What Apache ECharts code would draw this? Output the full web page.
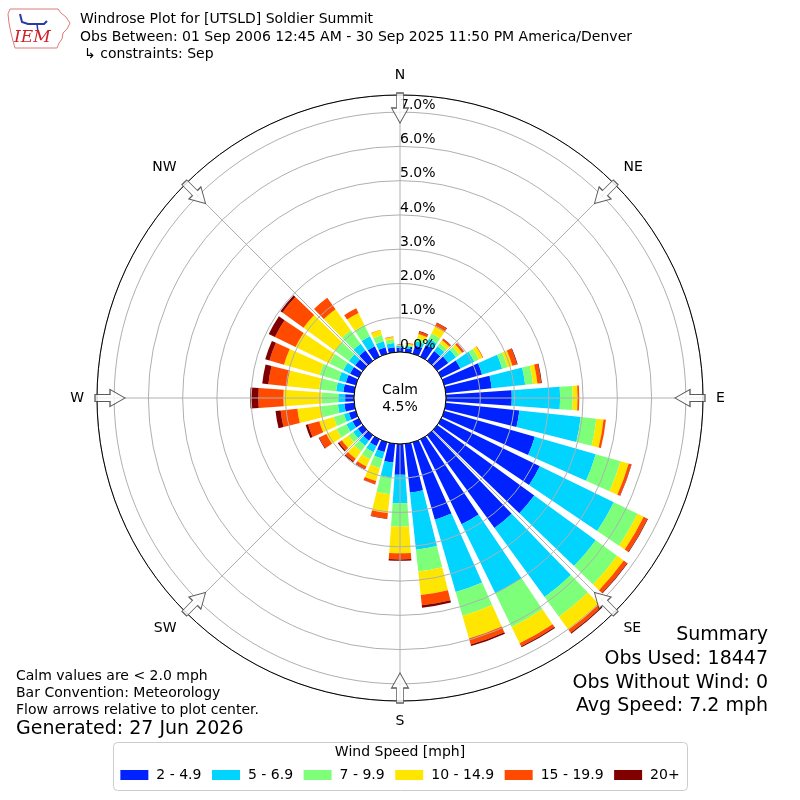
<!DOCTYPE html>
<html><head><meta charset="utf-8">
<script src="https://cdn.jsdelivr.net/npm/echarts@6/dist/echarts.min.js"></script>
<style>html,body{margin:0;padding:0;background:#fff}#c{width:800px;height:800px}</style>
</head><body><div id="c"></div>
<script>
// ---- data ----
const directions = ['0','10','20','30','40','50','60','70','80','90','100','110','120','130','140','150','160','170',
                    '180','190','200','210','220','230','240','250','260','270','280','290','300','310','320','330','340','350'];
const speedBins = ['2 - 4.9','5 - 6.9','7 - 9.9','10 - 14.9','15 - 19.9','20+'];
const binColors = ['#0022ff','#00d4ff','#7dff7a','#ffe600','#ff4a00','#800000'];
// percent of observations per direction, per speed bin
const bin2to5   = [0.13,0.12,0.25,0.38,0.35,0.40,0.62,1.15,1.35,1.92,2.16,2.75,3.20,3.50,3.35,2.76,2.35,1.43,
                   0.90,0.55,0.30,0.22,0.20,0.18,0.20,0.21,0.29,0.26,0.32,0.30,0.28,0.28,0.37,0.34,0.20,0.15];
const bin5to7   = [0.05,0.06,0.13,0.20,0.17,0.28,0.45,0.61,0.98,1.41,1.80,1.85,2.40,2.22,2.49,2.24,2.20,1.68,
                   0.83,0.44,0.20,0.20,0.18,0.17,0.20,0.15,0.19,0.20,0.21,0.22,0.22,0.22,0.24,0.32,0.18,0.12];
const bin7to10  = [0.02,0.04,0.10,0.17,0.11,0.12,0.15,0.16,0.23,0.37,0.46,0.75,0.77,0.77,0.71,1.09,0.72,0.64,
                   0.68,0.49,0.28,0.23,0.20,0.17,0.32,0.31,0.50,0.49,0.50,0.58,0.45,0.50,0.49,0.37,0.19,0.11];
const bin10to15 = [0.01,0.04,0.12,0.23,0.11,0.10,0.12,0.15,0.13,0.14,0.21,0.25,0.20,0.24,0.47,0.53,0.69,0.69,
                   0.78,0.55,0.40,0.23,0.27,0.24,0.33,0.44,0.69,1.11,0.94,1.08,1.10,1.14,0.76,0.39,0.15,0.07];
const bin15to20 = [0.00,0.02,0.07,0.11,0.05,0.06,0.02,0.14,0.11,0.05,0.07,0.08,0.12,0.12,0.11,0.10,0.18,0.30,
                   0.18,0.16,0.09,0.08,0.10,0.10,0.23,0.34,0.49,0.73,0.55,0.44,0.67,0.76,0.41,0.15,0.01,0.01];
const bin20plus = [0.00,0.00,0.02,0.02,0.01,0.01,0.00,0.02,0.02,0.00,0.00,0.01,0.02,0.02,0.03,0.03,0.05,0.07,
                   0.04,0.02,0.01,0.02,0.03,0.04,0.02,0.07,0.15,0.24,0.18,0.13,0.20,0.07,0.00,0.00,0.00,0.00];
const binSeries = [bin2to5, bin5to7, bin7to10, bin10to15, bin15to20, bin20plus];
const radialMax = 7.5;
const radialTicks = [0,1,2,3,4,5,6,7];
const compassAngles = [0,45,90,135,180,225,270,315];
const compassLabels = ['N','NE','E','SE','S','SW','W','NW'];
const calmPct = 4.5;
const arrowRadius = 7.12;

const FONT = 'DejaVu Sans';
const chart = echarts.init(document.getElementById('c'), null, {renderer: 'canvas'});

const centerPos = [400, 398];
const polarRadius = [46, 303];

const series = binSeries.map((vals, i) => ({
  name: speedBins[i],
  type: 'bar',
  coordinateSystem: 'polar',
  polarIndex: 0,
  stack: 'wind',
  data: vals,
  barCategoryGap: '20%',
  itemStyle: {color: binColors[i]},
  emphasis: {disabled: true},
  z: 2
}));

series.push({
  type: 'scatter',
  coordinateSystem: 'polar',
  polarIndex: 1,
  symbol: 'path://M5,0L12,0L12,15L17,15L8.5,30L0,15L5,15Z',
  symbolSize: [17, 30],
  itemStyle: {color: '#ffffff', borderColor: '#333', borderWidth: 1},
  emphasis: {disabled: true},
  silent: true,
  z: 20,
  data: compassAngles.map(a => ({value: [arrowRadius, a], symbolRotate: -a}))
});

const textEl = (x, y, txt, size, align, extra) => Object.assign({
  type: 'text', x: x, y: y, z: 50,
  style: {text: txt, fontSize: size, fontFamily: FONT, fill: '#000', textAlign: align || 'left', textVerticalAlign: 'middle'}
}, extra || {});

const option = {
  animation: false,
  backgroundColor: '#fff',
  textStyle: {fontFamily: FONT},
  polar: [
    {center: centerPos, radius: polarRadius},
    {center: centerPos, radius: polarRadius}
  ],
  angleAxis: [
    {polarIndex: 0, type: 'category', data: directions, startAngle: 95, clockwise: true,
     boundaryGap: true, show: false},
    {polarIndex: 1, type: 'value', min: 0, max: 360, interval: 45, startAngle: 90, clockwise: true, z: 5,
     axisLine: {show: true, lineStyle: {color: '#000', width: 1}},
     axisTick: {show: false},
     axisLabel: {show: true, margin: 13, fontSize: 14, color: '#000', fontFamily: FONT,
       formatter: v => { const k = compassAngles.indexOf(v); return k >= 0 ? compassLabels[k] : ''; }},
     splitLine: {show: true, lineStyle: {color: '#b0b0b0', width: 1}}}
  ],
  radiusAxis: [
    {polarIndex: 0, type: 'value', min: 0, max: radialMax, show: false},
    {polarIndex: 1, type: 'value', min: 0, max: radialMax, interval: 1, z: 5,
     axisLine: {show: false}, axisTick: {show: false},
     axisLabel: {show: true, margin: 0, fontSize: 14, color: '#000', fontFamily: FONT,
       align: 'left', verticalAlign: 'bottom',
       formatter: v => radialTicks.indexOf(v) >= 0 ? v.toFixed(1) + '%' : ''},
     splitLine: {show: true, lineStyle: {color: '#b0b0b0', width: 1}}}
  ],
  legend: {
    data: speedBins, left: 'center', top: 763, itemWidth: 28, itemHeight: 10, itemGap: 10.5,
    icon: 'rect', selectedMode: false,
    textStyle: {fontSize: 14, color: '#000', fontFamily: FONT, padding: [0, 0, 0, 3]}
  },
  graphic: [
    // logo
    {type: 'polygon', z: 50, shape: {points: [[10,9],[58,9],[61,13],[66,17],[70,23],[67,29],[63,33],[62,39],[59,43],[57,48],[15,48],[13,41],[11,33],[9,23],[8,14]]},
     style: {fill: '#fff', stroke: '#e07a7a', lineWidth: 1}},
    {type: 'polyline', z: 51, shape: {points: [[20,14],[22,22],[28,24],[44,24],[47,21]]}, style: {stroke: '#2a3aa8', lineWidth: 2, fill: null}},
    {type: 'polyline', z: 51, shape: {points: [[37,24],[38,32]]}, style: {stroke: '#2a3aa8', lineWidth: 1.5, fill: null}},
    {type: 'text', x: 14, y: 38, z: 51, style: {text: 'IEM', fontSize: 17, fontStyle: 'italic', fontFamily: 'DejaVu Serif', fill: '#d0202a', textVerticalAlign: 'middle'}},
    // titles
    textEl(80, 19, 'Windrose Plot for [UTSLD] Soldier Summit', 14),
    textEl(80, 37, 'Obs Between: 01 Sep 2006 12:45 AM - 30 Sep 2025 11:50 PM America/Denver', 14),
    textEl(84, 54, '\u21b3 constraints: Sep', 14),
    // calm
    {type: 'circle', z: 6, shape: {cx: centerPos[0], cy: centerPos[1], r: polarRadius[0]}, style: {fill: '#fff', stroke: '#000', lineWidth: 1}},
    textEl(400, 390, 'Calm', 14, 'center'),
    textEl(400, 407, calmPct.toFixed(1) + '%', 14, 'center'),
    // bottom left notes
    textEl(16, 676, 'Calm values are < 2.0 mph', 14),
    textEl(16, 693, 'Bar Convention: Meteorology', 14),
    textEl(16, 710, 'Flow arrows relative to plot center.', 14),
    textEl(16, 729, 'Generated: 27 Jun 2026', 19),
    // summary
    textEl(768, 635, 'Summary', 19, 'right'),
    textEl(768, 659, 'Obs Used: 18447', 19, 'right'),
    textEl(768, 683, 'Obs Without Wind: 0', 19, 'right'),
    textEl(768, 706, 'Avg Speed: 7.2 mph', 19, 'right'),
    // legend frame
    {type: 'rect', z: 0, shape: {x: 113.5, y: 742.5, width: 574, height: 48, r: 4}, style: {fill: '#fff', stroke: '#cccccc', lineWidth: 1}},
    textEl(400, 752, 'Wind Speed [mph]', 14, 'center')
  ],
  series: series
};
chart.setOption(option);
</script>
</body></html>
